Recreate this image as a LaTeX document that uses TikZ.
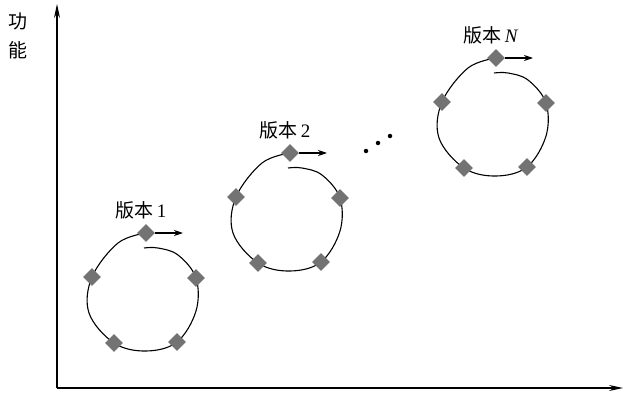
\documentclass[tikz,border=0pt]{standalone}
\usepackage{fontspec}
\setmainfont{Liberation Serif}
\newfontfamily\cjk{Noto Sans CJK SC}
\usetikzlibrary{shapes.geometric,arrows.meta}
\tikzset{
  curve/.style={line width=1.1pt,black},
  dia/.style={diamond,fill=black!55,minimum size=18pt,inner sep=0pt},
  arr/.style={line width=1.1pt,-{Stealth[length=9pt,width=6pt]}},
  axis/.style={line width=1.2pt,-{Stealth[length=14pt,width=6pt]}},
  lbl/.style={font=\fontsize{19}{21}\selectfont,inner sep=0pt},
  dot/.style={circle,fill=black,inner sep=0pt,minimum size=4.5pt}
}
\newcommand{\mycycle}[4]{%
 \begin{scope}[shift={(#2,#3)}]
  \draw[curve] plot[smooth,tension=0.6] coordinates {(0,0) (-28,10) (-54,44) (-57,80) (-32,110) (0,118) (31,109) (50,78) (50,45) (32,22) (12,15) (-2,15)};
  \node[dia] (#1t) at (0,0) {};
  \node[dia] (#1l) at (-54,44) {};
  \node[dia] (#1bl) at (-32,110) {};
  \node[dia] (#1br) at (31,109) {};
  \node[dia] (#1r) at (50,45) {};
  \coordinate (#1a) at (37,0);
  \draw[arr] (#1t.east) -- (#1a);
  \node[lbl] (#1lab) at (-5,-23) {#4};
 \end{scope}}
\begin{document}
\begin{tikzpicture}[x=1pt,y=-1pt]
\useasboundingbox (0,0) rectangle (627,396);
\coordinate (o) at (57,388);
\coordinate (ytop) at (57,4);
\coordinate (xend) at (623,388);
\draw[axis] (o) -- (ytop);
\draw[axis] (o) -- (xend);
\node[lbl,font=\fontsize{19}{21}\selectfont\cjk] (f1) at (18,21) {功};
\node[lbl,font=\fontsize{19}{21}\selectfont\cjk] (f2) at (18,50) {能};
\mycycle{a}{146}{233}{{\cjk 版本}\,1}
\mycycle{b}{290}{153}{{\cjk 版本}\,2}
\mycycle{c}{496}{58}{{\cjk 版本}\,\textit{N}}
\node[dot] (d1) at (366,151) {};
\node[dot] (d2) at (378,143) {};
\node[dot] (d3) at (390,136) {};
\end{tikzpicture}
\end{document}
